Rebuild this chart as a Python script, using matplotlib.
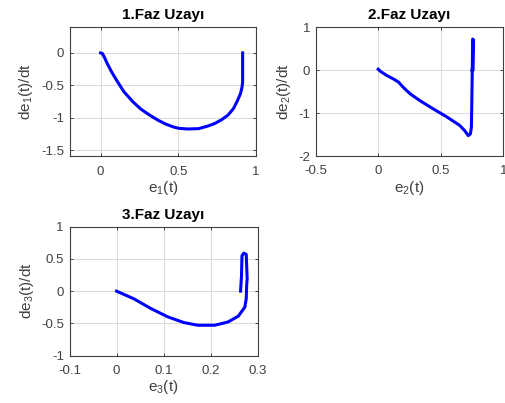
import matplotlib
matplotlib.use("Agg")
import matplotlib.pyplot as plt

plt.rcParams['font.family'] = ['Liberation Sans', 'DejaVu Sans']
plt.rcParams['mathtext.default'] = 'regular'

# Phase-space data
e1 = [0.0, 0.012, 0.025, 0.042, 0.07, 0.105, 0.15, 0.21, 0.26, 0.315, 0.37, 0.42, 0.47, 0.504,
      0.56, 0.63, 0.69, 0.735, 0.78, 0.82, 0.855, 0.88, 0.9, 0.91, 0.914, 0.914, 0.914]
de1 = [0.0, -0.01, -0.07, -0.16, -0.29, -0.43, -0.6, -0.76, -0.87, -0.96, -1.04, -1.1, -1.145, -1.165,
       -1.175, -1.17, -1.13, -1.09, -1.03, -0.96, -0.86, -0.74, -0.63, -0.53, -0.45, -0.2, 0.0]

e2 = [0.0, 0.018, 0.071, 0.124, 0.163, 0.2, 0.255, 0.334, 0.44, 0.545, 0.65, 0.69, 0.72,
      0.737, 0.745, 0.748, 0.752, 0.755, 0.762, 0.76, 0.758, 0.752, 0.75]
de2 = [0.02, -0.03, -0.13, -0.21, -0.28, -0.4, -0.55, -0.71, -0.9, -1.08, -1.28, -1.4, -1.52,
       -1.48, -1.32, -0.8, 0.0, 0.72, 0.7, 0.3, 0.0, 0.03, 0.0]

e3 = [0.0, 0.037, 0.073, 0.109, 0.144, 0.173, 0.209, 0.237, 0.259, 0.273, 0.276, 0.277,
      0.278, 0.276, 0.271, 0.267, 0.266, 0.264]
de3 = [0.0, -0.12, -0.27, -0.40, -0.49, -0.53, -0.53, -0.48, -0.39, -0.25, -0.12, 0.1,
       0.19, 0.57, 0.59, 0.55, 0.24, 0.0]

titles = ['1.Faz Uzayı', '2.Faz Uzayı', '3.Faz Uzayı']
xlabels = ['e$_1$(t)', 'e$_2$(t)', 'e$_3$(t)']
ylabels = ['de$_1$(t)/dt', 'de$_2$(t)/dt', 'de$_3$(t)/dt']
xlims = [(-0.2, 1.0), (-0.5, 1.0), (-0.1, 0.3)]
ylims = [(-1.6, 0.4), (-2.0, 1.0), (-1.0, 1.0)]
xticks = [[0, 0.5, 1], [-0.5, 0, 0.5, 1], [-0.1, 0, 0.1, 0.2, 0.3]]
xticklabels = [['0', '0.5', '1'], ['-0.5', '0', '0.5', '1'], ['-0.1', '0', '0.1', '0.2', '0.3']]
yticks = [[-1.5, -1, -0.5, 0], [-2, -1, 0, 1], [-1, -0.5, 0, 0.5, 1]]
yticklabels = [['-1.5', '-1', '-0.5', '0'], ['-2', '-1', '0', '1'], ['-1', '-0.5', '0', '0.5', '1']]

W, H = 506, 403
fig = plt.figure(figsize=(W / 100, H / 100), dpi=100)
rects = [
    (69.5 / W, 1 - 156.5 / H, 186.5 / W, 129.5 / H),
    (315.7 / W, 1 - 156.3 / H, 187.6 / W, 129.3 / H),
    (69.5 / W, 1 - 355.5 / H, 188 / W, 128.8 / H),
]
data = [(e1, de1), (e2, de2), (e3, de3)]
gray = '#262626'
for i in range(3):
    ax = fig.add_axes(rects[i])
    x, y = data[i]
    ax.plot(x, y, color='#0000ff', lw=2.2, solid_joinstyle='round')
    ax.set_xlim(*xlims[i])
    ax.set_ylim(*ylims[i])
    ax.set_xticks(xticks[i])
    ax.set_xticklabels(xticklabels[i])
    ax.set_yticks(yticks[i])
    ax.set_yticklabels(yticklabels[i])
    ax.grid(True, color='#dcdcdc', lw=0.8)
    ax.set_axisbelow(True)
    ax.tick_params(direction='in', length=2.5, width=0.6, colors=gray,
                   labelsize=9.5, labelcolor='#404040', top=True, right=True)
    ax.tick_params(axis='x', pad=6.5)
    ax.tick_params(axis='y', pad=4)
    for s in ax.spines.values():
        s.set_color('#404040')
        s.set_linewidth(0.8)
    ax.set_title(titles[i], fontsize=11, fontweight='bold', color='black', pad=5.5)
    ax.set_xlabel(xlabels[i], fontsize=11, color='#404040', labelpad=1)
    ax.set_ylabel(ylabels[i], fontsize=11, color='#404040', labelpad=4)

fig.savefig('out.png', dpi=100)
